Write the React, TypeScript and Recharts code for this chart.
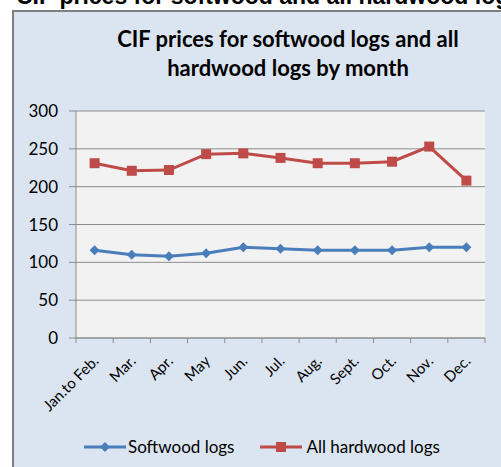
import React from 'react';
import { LineChart, Line, XAxis, YAxis, CartesianGrid } from 'recharts';

const months = ['Jan.to Feb.', 'Mar.', 'Apr.', 'May', 'Jun.', 'Jul.', 'Aug.', 'Sept.', 'Oct.', 'Nov.', 'Dec.'];
const softwood = [116, 110, 108, 112, 120, 118, 116, 116, 116, 120, 120];
const hardwood = [231, 221, 222, 243, 244, 238, 231, 231, 233, 253, 208];
const yTicks = [0, 50, 100, 150, 200, 250, 300];

const data = months.map((month, i) => ({ month, softwood: softwood[i], hardwood: hardwood[i] }));

const W = 501;
const H = 467;
const margin = { top: 111, right: 16, left: 16, bottom: 59 };
const yAxisWidth = 60;
const plotWidth = W - margin.left - margin.right - yAxisWidth;
const band = plotWidth / months.length;

const FONT = 'Lato, "Open Sans", sans-serif';
const GRID = '#8c8c8c';
const BLUE = '#4a7ebb';
const RED = '#be4b48';

const MonthTick = ({ x, y, payload, index }: any) => {
  const last = index === months.length - 1;
  return (
    <g>
      <line x1={x - band / 2} y1={y} x2={x - band / 2} y2={y + 5} stroke={GRID} />
      {last && <line x1={x + band / 2} y1={y} x2={x + band / 2} y2={y + 5} stroke={GRID} />}
      <text
        x={x + 5}
        y={y + 24}
        transform={`rotate(-45 ${x + 5} ${y + 24})`}
        textAnchor="end"
        fontFamily={FONT}
        fontSize={15}
        fill="#000"
      >
        {payload.value}
      </text>
    </g>
  );
};

const Diamond = ({ cx, cy }: any) => {
  if (cx == null || cy == null) return null;
  const r = 5;
  return <path d={`M${cx} ${cy - r}L${cx + r} ${cy}L${cx} ${cy + r}L${cx - r} ${cy}Z`} fill={BLUE} />;
};

const Square = ({ cx, cy }: any) => {
  if (cx == null || cy == null) return null;
  const r = 5;
  return <rect x={cx - r} y={cy - r} width={r * 2} height={r * 2} fill={RED} />;
};

export default function App() {
  return (
    <div style={{ position: 'absolute', left: 0, top: 0, width: W, height: H, overflow: 'hidden', background: '#fff' }}>
      {/* heading cut off by the crop */}
      <div
        style={{
          position: 'absolute',
          left: 16,
          top: -15,
          whiteSpace: 'nowrap',
          fontFamily: '"Liberation Sans", Arial, sans-serif',
          fontWeight: 'bold',
          fontSize: 23,
          lineHeight: '23px',
          color: '#000',
        }}
      >
        CIF  prices for softwood and all hardwood logs
      </div>

      {/* chart box */}
      <div
        style={{
          position: 'absolute',
          left: 12,
          top: 10,
          width: 520,
          height: 480,
          background: '#dbe5f1',
          borderLeft: '2px solid #7f7f7f',
          borderTop: '2px solid #7f7f7f',
        }}
      />

      <div
        style={{
          position: 'absolute',
          left: 38,
          top: 24,
          width: 500,
          textAlign: 'center',
          fontFamily: FONT,
          fontWeight: 'bold',
          fontSize: 22,
          lineHeight: '29px',
          color: '#000',
        }}
      >
        CIF prices for softwood logs and all
        <br />
        hardwood logs by month
      </div>

      <div style={{ position: 'absolute', left: 0, top: 0 }}>
        <LineChart width={W} height={H} data={data} margin={margin}>
          <CartesianGrid vertical={false} stroke={GRID} fill="#f2f2f2" />
          <XAxis
            dataKey="month"
            scale="band"
            interval={0}
            tickSize={0}
            tickMargin={0}
            tickLine={false}
            axisLine={{ stroke: GRID }}
            height={70}
            tick={<MonthTick />}
          />
          <YAxis
            domain={[0, 300]}
            ticks={yTicks}
            width={yAxisWidth}
            tickSize={7}
            tickMargin={11}
            tickLine={{ stroke: GRID }}
            axisLine={{ stroke: GRID }}
            tick={{ fontFamily: FONT, fontSize: 17, fill: '#000' }}
          />
          <Line
            dataKey="softwood"
            stroke={BLUE}
            strokeWidth={3}
            dot={<Diamond />}
            activeDot={false}
            isAnimationActive={false}
          />
          <Line
            dataKey="hardwood"
            stroke={RED}
            strokeWidth={3}
            dot={<Square />}
            activeDot={false}
            isAnimationActive={false}
          />
        </LineChart>
      </div>

      {/* legend */}
      <div
        style={{
          position: 'absolute',
          left: 84,
          top: 436,
          display: 'flex',
          alignItems: 'center',
          fontFamily: FONT,
          fontSize: 17,
          color: '#000',
          whiteSpace: 'nowrap',
        }}
      >
        <svg width={42} height={12}>
          <line x1={0} y1={6} x2={42} y2={6} stroke={BLUE} strokeWidth={3} />
          <path d="M21 1L26 6L21 11L16 6Z" fill={BLUE} />
        </svg>
        <span style={{ marginLeft: 2 }}>Softwood logs</span>
        <svg width={42} height={12} style={{ marginLeft: 26 }}>
          <line x1={0} y1={6} x2={42} y2={6} stroke={RED} strokeWidth={3} />
          <rect x={16} y={1} width={10} height={10} fill={RED} />
        </svg>
        <span style={{ marginLeft: 4 }}>All hardwood logs</span>
      </div>
    </div>
  );
}
